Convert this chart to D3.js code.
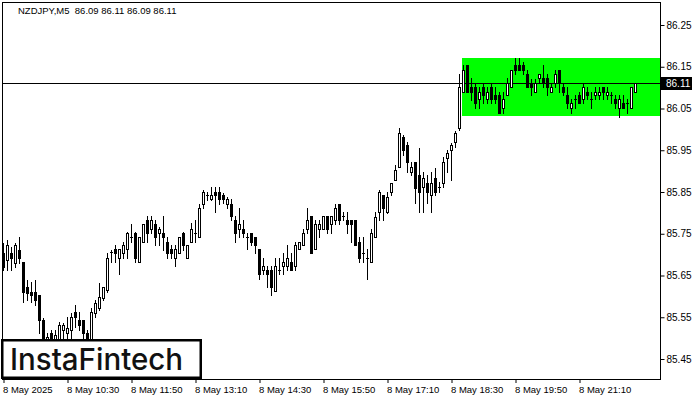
<!DOCTYPE html>
<html><head><meta charset="utf-8">
<script src="https://cdn.jsdelivr.net/npm/d3@7"></script>
<style>html,body{margin:0;padding:0;background:#fff;}svg{display:block;}</style>
</head><body>
<svg id="c" width="700" height="400"></svg>
<script>
const symbolTitle = "NZDJPY,M5  86.09 86.11 86.09 86.11";
const open = [
85.704,85.687,85.704,85.680,85.711,85.682,85.622,85.610,85.610,85.603,
85.543,85.495,85.512,85.488,85.495,85.519,85.512,85.519,85.562,85.543,
85.543,85.512,85.495,85.560,85.572,85.596,85.615,85.706,85.713,85.692,
85.704,85.713,85.742,85.752,85.682,85.730,85.783,85.761,85.773,85.752,
85.752,85.730,85.713,85.692,85.704,85.752,85.692,85.730,85.752,85.742,
85.821,85.843,85.833,85.850,85.850,85.843,85.821,85.821,85.783,85.761,
85.761,85.742,85.752,85.742,85.713,85.663,85.663,85.663,85.613,85.663,
85.673,85.673,85.682,85.673,85.713,85.723,85.761,85.793,85.713,85.761,
85.761,85.793,85.773,85.783,85.821,85.793,85.783,85.783,85.783,85.730,
85.704,85.692,85.682,85.742,85.802,85.843,85.802,85.850,85.879,85.910,
85.982,85.963,85.898,85.922,85.891,85.862,85.872,85.843,85.884,85.862,
85.872,85.932,85.951,85.970,86.004,86.090,86.153,86.102,86.102,86.073,
86.102,86.073,86.102,86.083,86.083,86.052,86.083,86.102,86.153,86.153,
86.153,86.133,86.112,86.090,86.124,86.124,86.124,86.090,86.112,86.143,
86.102,86.083,86.052,86.073,86.083,86.073,86.090,86.073,86.083,86.083,
86.102,86.083,86.083,86.073,86.052,86.064,86.064,86.052,86.090];
const high = [
85.728,85.735,85.718,85.728,85.742,85.682,85.639,85.634,85.639,85.603,
85.548,85.512,85.519,85.519,85.538,85.536,85.550,85.560,85.579,85.562,
85.543,85.519,85.572,85.591,85.632,85.622,85.704,85.711,85.723,85.713,
85.730,85.754,85.773,85.754,85.742,85.773,85.793,85.793,85.783,85.766,
85.793,85.742,85.723,85.723,85.742,85.754,85.723,85.776,85.783,85.821,
85.855,85.850,85.862,85.862,85.862,85.848,85.838,85.833,85.793,85.812,
85.783,85.752,85.752,85.742,85.713,85.692,85.673,85.673,85.692,85.692,
85.704,85.723,85.704,85.730,85.730,85.761,85.812,85.793,85.783,85.783,
85.793,85.793,85.793,85.821,85.821,85.802,85.802,85.783,85.783,85.742,
85.742,85.713,85.761,85.802,85.855,85.843,85.850,85.872,85.915,86.004,
85.987,85.970,85.922,85.922,85.956,85.898,85.891,85.898,85.908,85.874,
85.934,85.951,85.968,85.997,86.133,86.153,86.153,86.124,86.112,86.102,
86.112,86.102,86.112,86.102,86.090,86.090,86.124,86.143,86.172,86.172,
86.162,86.143,86.121,86.121,86.133,86.153,86.133,86.112,86.143,86.143,
86.112,86.102,86.073,86.083,86.090,86.112,86.102,86.090,86.102,86.102,
86.102,86.102,86.090,86.083,86.083,86.083,86.073,86.102,86.110];
const low = [
85.663,85.663,85.663,85.670,85.680,85.586,85.591,85.586,85.579,85.512,
85.488,85.483,85.476,85.471,85.483,85.495,85.495,85.495,85.526,85.519,
85.495,85.476,85.490,85.550,85.567,85.591,85.610,85.682,85.682,85.653,
85.692,85.692,85.730,85.682,85.682,85.730,85.730,85.752,85.723,85.723,
85.711,85.692,85.692,85.673,85.704,85.711,85.692,85.730,85.730,85.742,
85.812,85.831,85.831,85.802,85.821,85.824,85.812,85.783,85.730,85.742,
85.742,85.713,85.723,85.704,85.641,85.653,85.622,85.603,85.613,85.653,
85.653,85.663,85.663,85.663,85.713,85.723,85.752,85.704,85.713,85.742,
85.761,85.752,85.752,85.773,85.773,85.783,85.752,85.730,85.723,85.682,
85.682,85.641,85.682,85.742,85.783,85.783,85.800,85.843,85.879,85.910,
85.939,85.898,85.891,85.824,85.802,85.802,85.824,85.802,85.843,85.850,
85.862,85.898,85.879,85.958,85.999,86.090,86.090,86.071,86.052,86.052,
86.064,86.064,86.064,86.064,86.040,86.040,86.083,86.102,86.133,86.143,
86.133,86.102,86.083,86.090,86.112,86.102,86.083,86.090,86.102,86.090,
86.083,86.052,86.040,86.052,86.064,86.064,86.073,86.052,86.073,86.073,
86.073,86.073,86.064,86.052,86.030,86.052,86.040,86.052,86.090];
const close = [
85.670,85.723,85.692,85.723,85.692,85.610,85.608,85.603,85.591,85.543,
85.495,85.502,85.495,85.507,85.531,85.531,85.524,85.550,85.550,85.531,
85.512,85.490,85.562,85.584,85.598,85.622,85.692,85.706,85.704,85.713,
85.723,85.752,85.742,85.692,85.742,85.773,85.752,85.783,85.742,85.761,
85.742,85.704,85.704,85.713,85.742,85.723,85.723,85.761,85.752,85.812,
85.850,85.843,85.843,85.843,85.833,85.833,85.833,85.793,85.752,85.773,
85.752,85.742,85.730,85.723,85.653,85.673,85.653,85.622,85.673,85.663,
85.682,85.692,85.663,85.723,85.730,85.752,85.783,85.704,85.773,85.773,
85.793,85.761,85.793,85.812,85.783,85.793,85.773,85.773,85.723,85.692,
85.704,85.692,85.752,85.790,85.850,85.812,85.838,85.872,85.903,85.992,
85.951,85.922,85.910,85.860,85.850,85.884,85.850,85.872,85.850,85.862,
85.922,85.944,85.963,85.992,86.102,86.143,86.090,86.090,86.064,86.090,
86.083,86.090,86.073,86.073,86.040,86.073,86.112,86.143,86.143,86.143,
86.143,86.102,86.102,86.112,86.133,86.112,86.102,86.102,86.133,86.112,
86.090,86.064,86.064,86.073,86.064,86.102,86.083,86.073,86.090,86.090,
86.090,86.090,86.083,86.064,86.073,86.052,86.064,86.102,86.110];
const priceTicks = [85.45,85.55,85.65,85.75,85.85,85.95,86.05,86.15,86.25];
const timeTickBars = [0,16,32,48,64,80,96,112,128,144];
const timeLabels = ["8 May 2025","8 May 10:30","8 May 11:50","8 May 13:10","8 May 14:30","8 May 15:50","8 May 17:10","8 May 18:30","8 May 19:50","8 May 21:10"];
const currentPrice = 86.11;
const patternTop = 86.172, patternBottom = 86.033, patternStartBar = 114.8;
const logoText = "InstaFintech";

const svg = d3.select("#c");
const L=2, T=2, R=660, B=379;
const x = d3.scaleLinear().domain([0, open.length-1]).range([3.5, 635.5]);
const y = d3.scaleLinear().domain([85.45, 86.25]).range([359, 25]);
const py = v => Math.round(y(v)) + 0.5;

svg.append("rect").attr("width",700).attr("height",400).attr("fill","#fff");

// pattern rectangle
svg.append("rect")
  .attr("x", Math.round(x(patternStartBar)-0.5))
  .attr("y", Math.round(y(patternTop)))
  .attr("width", R - Math.round(x(patternStartBar)-0.5))
  .attr("height", Math.round(y(patternBottom)) - Math.round(y(patternTop)))
  .attr("fill","#00ff00");

// current price line
svg.append("line").attr("x1",L).attr("x2",R).attr("y1",py(currentPrice)).attr("y2",py(currentPrice))
  .attr("stroke","#000").attr("stroke-width",1).attr("shape-rendering","crispEdges");

// candles
const g = svg.append("g").attr("shape-rendering","crispEdges");
const idx = d3.range(open.length);
g.selectAll("line.w").data(idx).join("line").attr("class","w")
  .attr("x1",i=>x(i)).attr("x2",i=>x(i))
  .attr("y1",i=>Math.round(y(high[i]))).attr("y2",i=>Math.round(y(low[i]))+1)
  .attr("stroke","#000");
idx.forEach(i=>{
  const yo = Math.round(y(open[i])), yc = Math.round(y(close[i]));
  const top = Math.min(yo,yc), bot = Math.max(yo,yc);
  if (bot - top < 1) {
    g.append("line").attr("x1",x(i)-1.5).attr("x2",x(i)+1.5).attr("y1",top+0.5).attr("y2",top+0.5).attr("stroke","#000");
  } else {
    g.append("rect").attr("x",x(i)-1).attr("y",top+0.5).attr("width",2).attr("height",bot-top)
      .attr("fill", close[i] > open[i] ? "#fff" : "#000").attr("stroke","#000").attr("stroke-width",1);
  }
});

// frame
svg.append("rect").attr("x",L+0.5).attr("y",T+0.5).attr("width",R-L).attr("height",B-T-0.5)
  .attr("fill","none").attr("stroke","#000").attr("shape-rendering","crispEdges");

// y axis
const ya = svg.append("g").attr("transform",`translate(${R+0.5},0)`)
  .call(d3.axisRight(y).tickValues(priceTicks).tickFormat(d3.format(".2f")).tickSize(4).tickPadding(2));
ya.select(".domain").remove();
ya.selectAll("text").attr("font-family","'Liberation Sans', Arial, sans-serif").attr("font-size","10px").attr("fill","#000");
ya.selectAll("line").attr("stroke","#000");

// x axis
const xa = svg.append("g").attr("transform",`translate(0,${B})`)
  .call(d3.axisBottom(x).tickValues(timeTickBars).tickFormat((d,i)=>timeLabels[i]).tickSize(4).tickPadding(2));
xa.select(".domain").remove();
xa.selectAll("text").attr("text-anchor","start").attr("dx","-1").attr("dy","0.8em")
  .attr("font-family","'Liberation Sans', Arial, sans-serif").attr("font-size","9.5px").attr("fill","#000");
xa.selectAll("line").attr("stroke","#000");

// current price label
const cy = Math.round(y(currentPrice));
svg.append("rect").attr("x",661).attr("y",cy-6).attr("width",31).attr("height",13).attr("fill","#000");
svg.append("text").attr("x",666).attr("y",cy+4).text(d3.format(".2f")(currentPrice))
  .attr("font-family","'Liberation Sans', Arial, sans-serif").attr("font-size","10px").attr("fill","#fff");

// title
svg.append("text").attr("x",18).attr("y",14).text(symbolTitle).attr("xml:space","preserve")
  .style("white-space","pre")
  .attr("font-family","'Liberation Sans', Arial, sans-serif").attr("font-size","9.5px").attr("fill","#000");

// logo
svg.append("rect").attr("x",2.25).attr("y",340.25).attr("width",198.5).attr("height",37.5)
  .attr("fill","#fff").attr("stroke","#000").attr("stroke-width",2.5);
svg.append("text").attr("x",10).attr("y",370).text(logoText)
  .attr("font-family","Inter, 'Noto Sans', sans-serif").attr("font-weight",500).attr("font-size","30px")
  .attr("textLength",173).attr("lengthAdjust","spacingAndGlyphs").attr("fill","#111");
</script>
</body></html>
